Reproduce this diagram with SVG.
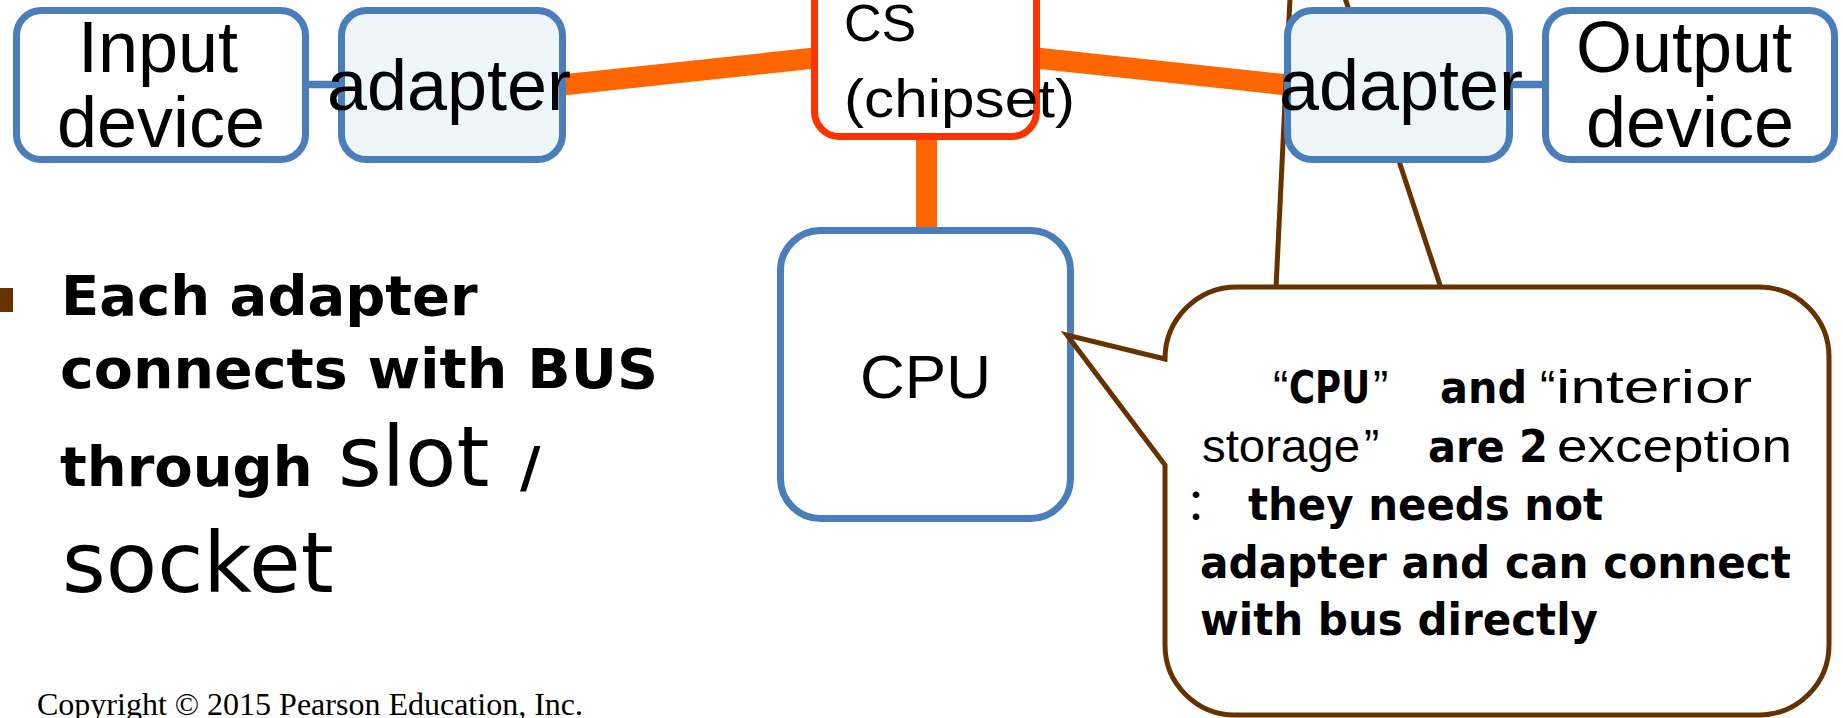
<svg xmlns="http://www.w3.org/2000/svg" width="1843" height="718" viewBox="0 0 1843 718">
<style>
.box{fill:#ffffff;stroke:#4a7ebb;stroke-width:7}
.adp{fill:#eef6f9;stroke:#4a7ebb;stroke-width:7}
.cs{fill:#ffffff;stroke:#ff3300;stroke-width:7}
.bus{stroke:#ff6600;stroke-width:21;fill:none}
.link{stroke:#4a7ebb;stroke-width:7.5;fill:none}
.brown{stroke:#663300;stroke-width:5;fill:none}
.lbl{font-family:"Liberation Sans",Arial,sans-serif;fill:#000}
.big{font-size:72px;text-anchor:middle}
.b{font-family:"DejaVu Sans",Verdana,sans-serif;font-weight:bold;fill:#000}
.bc{font-family:"DejaVu Sans Condensed","DejaVu Sans",Verdana,sans-serif;font-weight:bold;fill:#000}
.r{font-family:"Liberation Sans",Arial,sans-serif;fill:#000}
.dv{font-family:"DejaVu Sans",Verdana,sans-serif;fill:#000}
</style>
<rect width="1843" height="718" fill="#ffffff"/>
<g id="connectors">
  <line class="bus" x1="562" y1="85" x2="815" y2="58"/>
  <line class="bus" x1="1036" y1="58" x2="1288" y2="85"/>
  <line class="bus" x1="926.5" y1="134" x2="926.5" y2="232"/>
  <line class="link" x1="305" y1="84.5" x2="342" y2="84.5"/>
  <line class="link" x1="1509" y1="84.5" x2="1546" y2="84.5"/>
  <line class="brown" x1="1290" y1="-2" x2="1276" y2="288" stroke-width="4.5"/>
  <line class="brown" x1="1345" y1="-2" x2="1441" y2="288" stroke-width="4.5"/>
</g>
<g id="input-device">
  <rect class="box" x="16.5" y="10.5" width="289" height="149" rx="25"/>
  <text class="lbl big" x="158" y="72">Input</text>
  <text class="lbl big" x="161" y="147">device</text>
</g>
<g id="adapter-left">
  <rect class="adp" x="341.5" y="10.5" width="221" height="149" rx="25"/>
  <text class="lbl big" x="449" y="110">adapter</text>
</g>
<g id="chipset">
  <rect class="cs" x="814.5" y="-60" width="222" height="196.5" rx="25"/>
  <text class="lbl" x="844" y="41" font-size="52">CS</text>
  <text class="lbl" x="844" y="117" font-size="54" textLength="231" lengthAdjust="spacingAndGlyphs">(chipset)</text>
</g>
<g id="adapter-right">
  <rect class="adp" x="1287.5" y="10.5" width="222" height="149" rx="25"/>
  <text class="lbl big" x="1401" y="110">adapter</text>
</g>
<g id="output-device">
  <rect class="box" x="1545.5" y="10.5" width="289" height="149" rx="25"/>
  <text class="lbl big" x="1684" y="72">Output</text>
  <text class="lbl big" x="1690" y="147">device</text>
</g>
<g id="cpu">
  <rect class="box" x="780.5" y="230.5" width="290" height="288" rx="40"/>
  <text class="lbl" x="925.5" y="398" font-size="62" text-anchor="middle">CPU</text>
</g>
<g id="callout">
  <path class="brown" d="M1165,465 L1165,645 A70,70 0 0 0 1235,715 L1759,715 A70,70 0 0 0 1829,645 L1829,357 A70,70 0 0 0 1759,287 L1237,287 A72,72 0 0 0 1165,359 L1067,335 Z" style="fill:#ffffff"/>
  <text class="r" x="1273" y="403" font-size="46">“</text>
  <text class="bc" x="1289" y="403" font-size="44" textLength="81" lengthAdjust="spacingAndGlyphs">CPU</text>
  <text class="r" x="1373" y="403" font-size="46">”</text>
  <text class="bc" x="1440" y="403" font-size="44" textLength="87" lengthAdjust="spacingAndGlyphs">and</text>
  <text class="r" x="1540" y="403" font-size="46">“</text>
  <text class="r" x="1556" y="403" font-size="46" textLength="196" lengthAdjust="spacingAndGlyphs">interior</text>
  <text class="r" x="1202" y="462" font-size="46" textLength="158" lengthAdjust="spacingAndGlyphs">storage</text>
  <text class="r" x="1364" y="462" font-size="46">”</text>
  <text class="bc" x="1428" y="462" font-size="44" textLength="120" lengthAdjust="spacingAndGlyphs">are 2</text>
  <text class="r" x="1557" y="462" font-size="46" textLength="235" lengthAdjust="spacingAndGlyphs">exception</text>
  <text x="1185" y="520" font-size="44" style="font-family:'Noto Sans CJK SC','Liberation Sans',sans-serif;fill:#000">：</text>
  <text class="bc" x="1248" y="520" font-size="44" textLength="355" lengthAdjust="spacingAndGlyphs">they needs not</text>
  <text class="bc" x="1200" y="578" font-size="44" textLength="591" lengthAdjust="spacingAndGlyphs">adapter and can connect</text>
  <text class="bc" x="1200" y="635" font-size="44" textLength="398" lengthAdjust="spacingAndGlyphs">with bus directly</text>
</g>
<g id="bullet-text">
  <rect x="-11" y="288" width="24" height="24" fill="#663300"/>
  <text class="b" x="61" y="315" font-size="56">Each adapter</text>
  <text class="b" x="60" y="388" font-size="56" textLength="598" lengthAdjust="spacingAndGlyphs">connects with BUS</text>
  <text class="b" x="60" y="486" font-size="56">through</text>
  <text class="dv" x="338" y="486" font-size="84">slot</text>
  <text class="b" x="520" y="486" font-size="56">/</text>
  <text class="dv" x="62" y="592" font-size="84">socket</text>
</g>
<text x="37" y="715" font-size="32" style="font-family:'Liberation Serif','Times New Roman',serif;fill:#000">Copyright © 2015 Pearson Education, Inc.</text>
</svg>
